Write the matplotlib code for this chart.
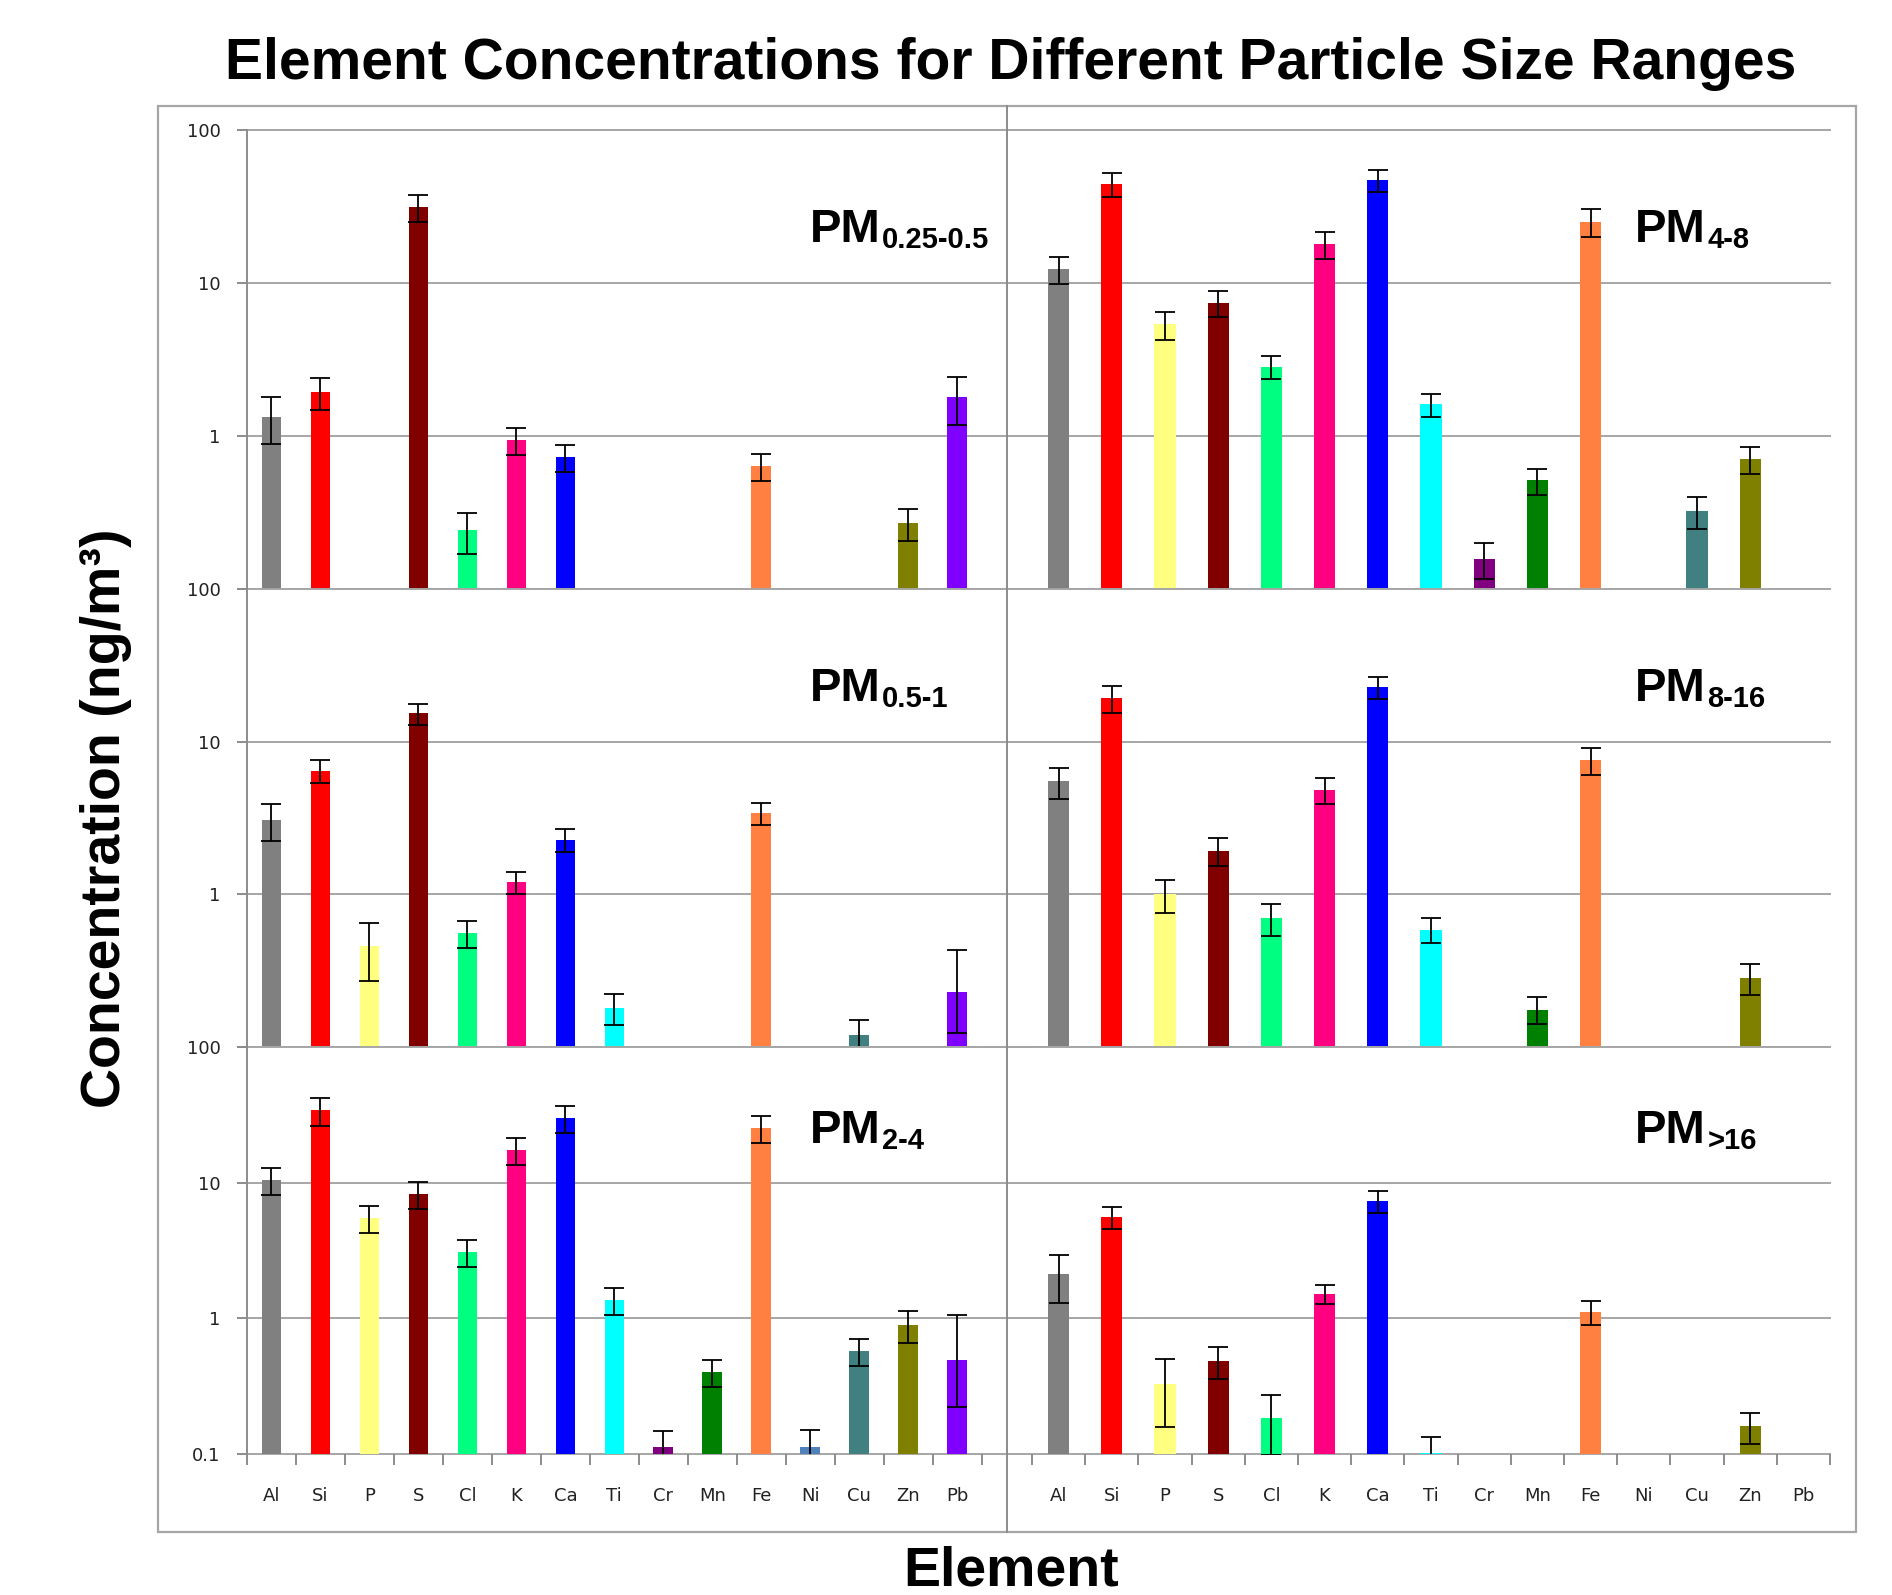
import numpy as np
import matplotlib
matplotlib.use('Agg')
import matplotlib.pyplot as plt
from matplotlib import font_manager
from matplotlib.lines import Line2D
from matplotlib.patches import Rectangle
from matplotlib.ticker import NullLocator

nan = np.nan

elements = ['Al', 'Si', 'P', 'S', 'Cl', 'K', 'Ca', 'Ti', 'Cr', 'Mn', 'Fe', 'Ni', 'Cu', 'Zn', 'Pb']
colors = ['#808080', '#FF0000', '#FFFF80', '#800000', '#00FF80', '#FF0080', '#0000FF', '#00FFFF',
          '#800080', '#008000', '#FF8040', '#4F81BD', '#408080', '#808000', '#8000FF']

# concentrations (ng/m3), nan = not detected; errors as +/- or (minus, plus)
pm_025_05 = [1.34, 1.95, nan, 31.3, 0.242, 0.946, 0.724, nan, nan, nan, 0.636, nan, nan, 0.270, 1.80]
err_025_05 = [0.46, 0.46, nan, 6.2, 0.073, 0.19, 0.145, nan, nan, nan, 0.126, nan, nan, 0.063, 0.62]

pm_4_8 = [12.3, 44.3, 5.36, 7.43, 2.83, 17.9, 46.8, 1.61, 0.158, 0.513, 25.2, nan, 0.324, 0.707, nan]
err_4_8 = [2.5, 7.7, 1.1, 1.43, 0.48, 3.5, 7.6, 0.27, 0.042, 0.10, 5.2, nan, 0.077, 0.14, nan]

pm_05_1 = [3.07, 6.46, 0.459, 15.3, 0.556, 1.20, 2.28, 0.181, nan, nan, 3.41, nan, 0.119, nan, 0.230]
err_05_1 = [0.82, 1.08, 0.19, 2.4, 0.11, 0.20, 0.40, 0.041, nan, nan, 0.57, nan, 0.031, nan, (0.107, 0.204)]

pm_8_16 = [5.50, 19.3, 1.00, 1.93, 0.703, 4.82, 22.7, 0.587, nan, 0.176, 7.59, nan, nan, 0.284, nan]
err_8_16 = [1.26, 3.9, 0.25, 0.40, 0.166, 0.93, 3.7, 0.11, nan, 0.035, 1.5, nan, nan, 0.064, nan]

pm_2_4 = [10.5, 34.1, 5.45, 8.29, 3.09, 17.5, 30.2, 1.37, 0.113, 0.400, 25.2, 0.113, 0.574, 0.895, 0.496]
err_2_4 = [2.4, 7.8, 1.23, 1.9, 0.68, 4.0, 6.8, 0.31, 0.035, 0.09, 5.7, 0.038, 0.13, 0.235, (0.273, 0.571)]

pm_16 = [2.12, 5.57, 0.329, 0.486, 0.185, 1.52, 7.33, 0.1024, nan, nan, 1.12, nan, nan, 0.160, nan]
err_16 = [0.82, 1.03, 0.17, 0.13, 0.087, 0.24, 1.35, 0.03, nan, nan, 0.23, nan, nan, 0.042, nan]

panels = [
    [(pm_025_05, err_025_05, '0.25-0.5'), (pm_4_8, err_4_8, '4-8')],
    [(pm_05_1, err_05_1, '0.5-1'), (pm_8_16, err_8_16, '8-16')],
    [(pm_2_4, err_2_4, '2-4'), (pm_16, err_16, '>16')],
]

names = {f.name for f in font_manager.fontManager.ttflist}
NARROW = ['Liberation Sans Narrow', 'Liberation Sans', 'DejaVu Sans']
if 'Liberation Sans Narrow' in names:
    PM_SIZE, SUB_SIZE = 37, 23
else:
    PM_SIZE, SUB_SIZE = 34, 21
BOLD = ['Liberation Sans', 'DejaVu Sans']

W, H = 1892, 1595
fig = plt.figure(figsize=(W / 100, H / 100), dpi=100)
fig.patch.set_facecolor('white')

GRID = '#A6A6A6'
AXC = '#8C8C8C'

# pixel layout (full size)
cols = [(247, 981.6), (1032, 1830)]
rows = [(130, 589), (589, 1047), (1047, 1454)]
divider = 1007


def split_err(errs):
    lo, hi = [], []
    for e in errs:
        if isinstance(e, tuple):
            lo.append(e[0]); hi.append(e[1])
        else:
            lo.append(e); hi.append(e)
    return np.array([lo, hi], dtype=float)


x = np.arange(len(elements))
for r, row in enumerate(panels):
    top, bot = rows[r]
    for c, (vals, errs, label) in enumerate(row):
        left, right = cols[c]
        ax = fig.add_axes([left / W, 1 - bot / H, (right - left) / W, (bot - top) / H])
        ax.set_yscale('log')
        ax.set_ylim(0.1, 100)
        ax.set_xlim(-0.5, len(elements) - 0.5)
        for s in ax.spines.values():
            s.set_visible(False)

        # gridlines reach the divider between the two columns
        if c == 0:
            gx0, gx1 = 0, (divider - left) / (right - left)
        else:
            gx0, gx1 = (divider - left) / (right - left), 1
        for gy in [0.1, 1, 10, 100]:
            ax.axhline(gy, gx0, gx1, color=GRID, lw=1.4, clip_on=False, zorder=0)

        v = np.array(vals, dtype=float)
        ax.bar(x, v, width=0.4, color=colors, zorder=2)
        ax.errorbar(x, v, yerr=split_err(errs), fmt='none', ecolor='black',
                    elinewidth=1.3, capsize=7, capthick=1.3, zorder=3)

        ax.yaxis.set_minor_locator(NullLocator())
        if c == 0:
            ax.spines['left'].set_visible(True)
            ax.spines['left'].set_color(AXC)
            ax.spines['left'].set_linewidth(1.4)
            ax.set_yticks([0.1, 1, 10, 100])
            if r == 2:
                ax.set_yticklabels(['0.1', '1', '10', '100'])
            else:
                ax.set_yticklabels(['', '1', '10', '100'])
            ax.tick_params(axis='y', length=7, width=1.4, color=AXC, pad=12,
                           labelsize=13, labelcolor='#222222')
        else:
            ax.tick_params(axis='y', left=False, labelleft=False)

        if r == 2:
            ax.set_xticks(x)
            ax.set_xticklabels(elements)
            ax.set_xticks(np.arange(-0.5, len(elements), 1), minor=True)
            ax.tick_params(axis='x', which='major', length=0, pad=24,
                           labelsize=13, labelcolor='#222222')
            ax.tick_params(axis='x', which='minor', length=8, width=1.4, color=AXC)
        else:
            ax.tick_params(axis='x', which='both', bottom=False, labelbottom=False)

        # panel label PM with subscript
        lx = 0.766 if c == 0 else 0.756
        ly = 0.764 if r == 2 else 0.756
        t = ax.text(lx, ly, 'PM', transform=ax.transAxes, ha='left', va='baseline',
                    fontsize=PM_SIZE, fontweight='bold', family=NARROW)
        ax.annotate(label, xy=(1, 0), xycoords=t, xytext=(1, 3), textcoords='offset points',
                    ha='left', va='baseline', fontsize=SUB_SIZE, fontweight='bold',
                    family=NARROW)

# outer frame and column divider
fig.add_artist(Rectangle((158 / W, 1 - 1532 / H), (1856 - 158) / W, (1532 - 106) / H,
                         transform=fig.transFigure, fill=False, ec=GRID, lw=1.6))
fig.add_artist(Line2D([divider / W, divider / W], [1 - 1532 / H, 1 - 106 / H],
                      transform=fig.transFigure, color=AXC, lw=1.4))

fig.text(1011 / W, 1 - 64 / H, 'Element Concentrations for Different Particle Size Ranges',
         ha='center', va='center', fontsize=41, fontweight='bold', family=BOLD)
fig.text(106 / W, 1 - 818 / H, 'Concentration (ng/m\u00b3)', rotation=90,
         ha='center', va='center', fontsize=40, fontweight='bold', family=BOLD)
fig.text(1011 / W, 1 - 1572 / H, 'Element', ha='center', va='center',
         fontsize=40, fontweight='bold', family=BOLD)

fig.savefig('out.png', dpi=100)
